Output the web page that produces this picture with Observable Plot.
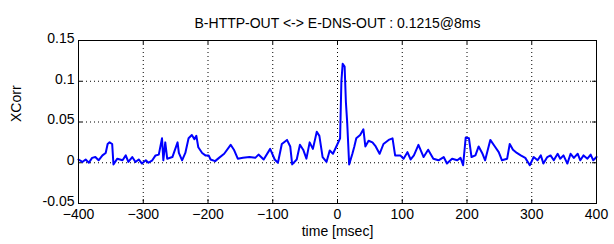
<!DOCTYPE html>
<html><head><meta charset="utf-8">
<script src="https://cdn.jsdelivr.net/npm/d3@7"></script>
<script src="https://cdn.jsdelivr.net/npm/@observablehq/plot@0.6"></script>
<style>body{margin:0;background:#fff;} #chart svg{display:block;}</style>
</head><body><div id="chart"></div>
<script>
const chartTitle = "B-HTTP-OUT <-> E-DNS-OUT : 0.1215@8ms";
const xLabel = "time [msec]";
const yLabel = "XCorr";
const xTicks = [-400, -300, -200, -100, 0, 100, 200, 300, 400];
const yTicks = [-0.05, 0, 0.05, 0.1, 0.15];
const yTickLabels = ["-0.05", "0", "0.05", "0.1", "0.15"];

const timeMs = [
  -400,-394,-389,-384,-379,-374,-369,-363,-358,-355,-352,-348,-346,-340,-332,-327,-323,-317,-312,-307,
  -302,-296,-292,-286,-281,-276,-271,-269,-266,-263,-255,-247,-245,-240,-235,-230,-225,-221,-218,-215,
  -209,-204,-199,-196,-189,-183,-175,-165,-160,-154,-146,-136,-127,-122,-114,-104,-97,-92,-86,-78,
  -73,-70,-63,-58,-53,-48,-43,-38,-32,-28,-23,-17,-12,-7,0,4,6,8,11,13,
  15,18,23,26,29,35,40,43,48,54,59,65,71,79,85,89,97,102,108,113,
  118,125,133,140,148,156,164,169,177,185,190,194,198,203,207,213,218,224,228,236,
  243,249,254,262,266,271,277,283,290,297,303,309,314,318,324,329,334,340,344,349,
  355,360,365,371,375,380,386,391,395,400
];
const xcorr = [
  0.004,0.001,0.004,0.000,0.006,0.007,0.003,0.009,0.012,0.023,0.025,0.023,-0.002,0.005,0.003,0.009,0.001,0.007,0.001,0.004,
  -0.001,0.003,0.000,0.003,0.009,0.010,0.030,0.003,0.025,0.005,0.007,0.025,0.012,0.003,0.012,0.030,0.034,0.029,0.033,0.019,
  0.012,0.009,0.009,0.004,0.002,0.006,0.011,0.022,0.016,0.005,0.006,0.007,0.006,0.010,0.004,0.017,0.004,0.000,0.023,0.028,
  0.020,-0.002,0.004,0.022,0.016,0.005,0.025,0.017,0.038,0.033,0.007,0.001,0.015,0.011,0.023,0.030,0.100,0.1215,0.118,0.074,
  0.049,-0.002,0.011,0.020,0.030,0.034,0.041,0.020,0.027,0.025,0.020,0.011,0.023,0.028,0.030,0.009,0.009,0.005,0.013,0.004,
  0.009,0.022,0.007,0.016,0.005,0.003,0.007,-0.001,0.005,0.003,0.006,-0.003,0.031,0.030,0.007,0.009,0.020,0.011,0.003,0.028,
  0.020,0.013,0.003,0.005,0.023,0.016,0.012,0.009,0.006,-0.003,0.007,0.003,0.009,-0.001,0.007,0.009,0.003,0.011,0.005,0.009,
  -0.001,0.011,0.006,0.011,0.003,0.009,0.005,0.010,0.003,0.007
];

const data = timeMs.map((t, i) => ({t, v: xcorr[i]}));

const W = 614, H = 244, mL = 78, mR = 18, mT = 40, mB = 41;
const innerW = W - mL - mR, innerH = H - mT - mB;
const tickLen = 4;
const fs = 14;

const chart = Plot.plot({
  width: W, height: H,
  marginLeft: mL, marginRight: mR, marginTop: mT, marginBottom: mB,
  style: {fontFamily: "'Liberation Sans', Arial, sans-serif", fontSize: fs + "px", background: "white", color: "black"},
  x: {domain: [-400, 400]},
  y: {domain: [-0.05, 0.15]},
  marks: [
    Plot.gridX(xTicks, {stroke: "black", strokeOpacity: 1, strokeWidth: 1, strokeDasharray: "1,3"}),
    Plot.gridY(yTicks, {stroke: "black", strokeOpacity: 1, strokeWidth: 1, strokeDasharray: "1,3"}),
    Plot.tickX(xTicks, {x: d => d, stroke: "black", insetTop: innerH - tickLen}),
    Plot.tickX(xTicks, {x: d => d, stroke: "black", insetBottom: innerH - tickLen}),
    Plot.tickY(yTicks, {y: d => d, stroke: "black", insetRight: innerW - tickLen}),
    Plot.tickY(yTicks, {y: d => d, stroke: "black", insetLeft: innerW - tickLen}),
    Plot.axisX(xTicks, {tickSize: 0, tickPadding: 6, label: null, fontSize: fs}),
    Plot.axisY(yTicks, {tickSize: 0, tickPadding: 4, label: null, fontSize: fs, dy: -2,
      tickFormat: d => yTickLabels[yTicks.indexOf(d)]}),
    Plot.line(data, {x: "t", y: "v", stroke: "#0000ff", strokeWidth: 2}),
    Plot.frame({stroke: "black", strokeWidth: 1}),
    Plot.text([chartTitle], {frameAnchor: "top", dy: -22, fontSize: fs, fill: "black"}),
    Plot.text([xLabel], {frameAnchor: "bottom", dy: 32, fontSize: fs, fill: "black"}),
    Plot.text([yLabel], {frameAnchor: "left", dx: -62, rotate: -90, fontSize: fs, fill: "black"})
  ]
});
document.getElementById("chart").appendChild(chart);
</script>
</body></html>
